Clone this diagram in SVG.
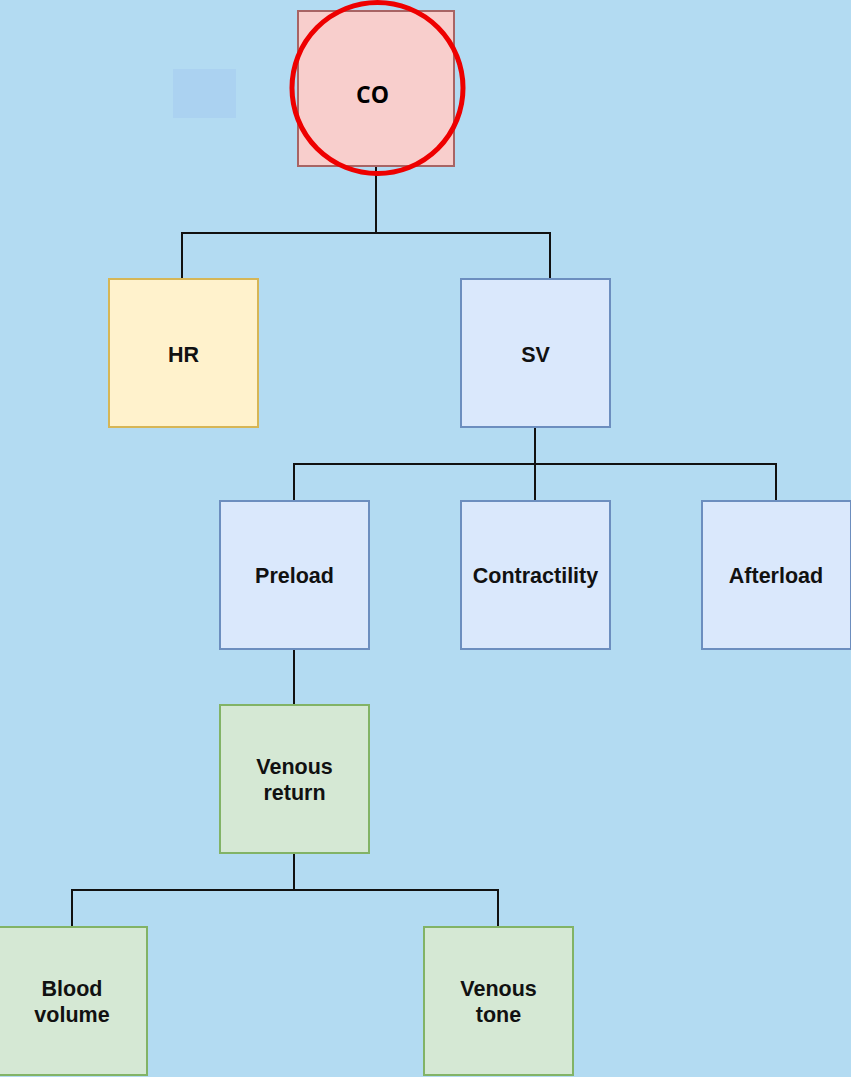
<svg xmlns="http://www.w3.org/2000/svg" width="851" height="1077" viewBox="0 0 851 1077">
<style>
.box{stroke-width:2}
.blue{fill:#dae8fc;stroke:#6c8ebf}
.green{fill:#d5e8d4;stroke:#82b366}
.yellow{fill:#fff2cc;stroke:#d6b656}
.red{fill:#f8cecc;stroke:#a86464}
.lbl{font-family:"Liberation Sans",Arial,sans-serif;font-weight:bold;font-size:21.5px;fill:#111;text-anchor:middle}
.edge{fill:none;stroke:#111;stroke-width:2}
</style>
<rect x="0" y="0" width="851" height="1077" fill="#b3dbf2"/>
<rect x="173" y="69" width="63" height="49" fill="#abd2f1"/>
<g id="connectors">
<path class="edge" d="M376 166 V233 M182 279 V233 H550 V279"/>
<path class="edge" d="M535 427 V464 M294 500 V464 H776 V500 M535 464 V500"/>
<path class="edge" d="M294 649 V704"/>
<path class="edge" d="M294 853 V890 M72 926 V890 H498 V926"/>
</g>
<g id="CO">
<rect class="box red" x="298" y="11" width="156" height="155"/>
<text x="372.5" y="103" style="font-family:'Open Sans','Liberation Sans',sans-serif;font-weight:bold;font-size:23px;fill:#000;text-anchor:middle">CO</text>
</g>
<g id="HR">
<rect class="box yellow" x="109" y="279" width="149" height="148"/>
<text class="lbl" x="183.5" y="361.5">HR</text>
</g>
<g id="SV">
<rect class="box blue" x="461" y="279" width="149" height="148"/>
<text class="lbl" x="535.5" y="361.5">SV</text>
</g>
<g id="Preload">
<rect class="box blue" x="220" y="501" width="149" height="148"/>
<text class="lbl" x="294.5" y="583">Preload</text>
</g>
<g id="Contractility">
<rect class="box blue" x="461" y="501" width="149" height="148"/>
<text class="lbl" x="535.5" y="583">Contractility</text>
</g>
<g id="Afterload">
<rect class="box blue" x="702" y="501" width="149" height="148"/>
<text class="lbl" x="776" y="583">Afterload</text>
</g>
<g id="VenousReturn">
<rect class="box green" x="220" y="705" width="149" height="148"/>
<text class="lbl" x="294.5" y="774">Venous</text>
<text class="lbl" x="294.5" y="800">return</text>
</g>
<g id="BloodVolume">
<rect class="box green" x="-2" y="927" width="149" height="148"/>
<text class="lbl" x="72" y="996">Blood</text>
<text class="lbl" x="72" y="1022">volume</text>
</g>
<g id="VenousTone">
<rect class="box green" x="424" y="927" width="149" height="148"/>
<text class="lbl" x="498.5" y="996">Venous</text>
<text class="lbl" x="498.5" y="1022">tone</text>
</g>
<circle cx="377.5" cy="88" r="85.5" fill="none" stroke="#ee0000" stroke-width="5"/>
</svg>
